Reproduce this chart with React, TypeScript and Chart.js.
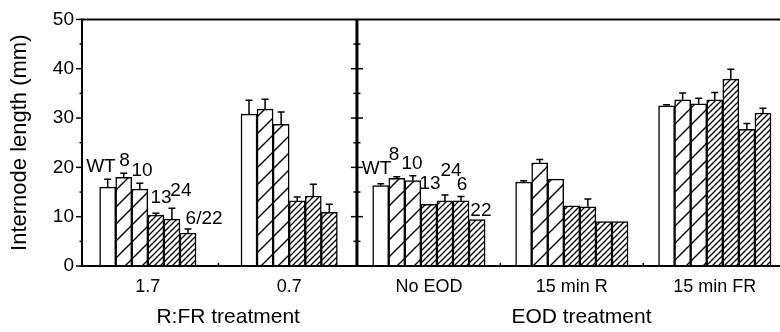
import React, { useEffect, useRef } from "react";
import { Chart, registerables } from "chart.js";

Chart.register(...registerables);

// ---------- data ----------
const GROUPS = ["1.7", "0.7", "No EOD", "15 min R", "15 min FR"];
const RFR_GENOTYPES = ["WT", "8", "10", "13", "24", "6/22"];
const EOD_GENOTYPES = ["WT", "8", "10", "13", "24", "6", "22"];

const RFR_17 = [16.0, 18.0, 15.6, 10.3, 9.5, 6.7];
const RFR_17_SE = [1.6, 0.8, 1.2, 0.4, 2.2, 0.8];
const RFR_07 = [30.8, 31.8, 28.7, 13.2, 14.2, 10.9];
const RFR_07_SE = [2.8, 2.0, 2.5, 0.8, 2.4, 1.6];
const EOD_NONE = [16.3, 17.8, 17.3, 12.5, 13.2, 13.2, 9.4];
const EOD_NONE_SE = [0.4, 0.3, 1.0, 0, 1.2, 0.9, 0];
const EOD_R = [17.0, 20.9, 17.6, 12.2, 12.0, 9.0, 9.0];
const EOD_R_SE = [0.3, 0.7, 0, 0, 1.6, 0, 0];
const EOD_FR = [32.5, 33.7, 32.9, 33.7, 37.9, 27.7, 31.0];
const EOD_FR_SE = [0.2, 1.4, 1.1, 1.5, 2.0, 1.2, 1.0];

const Y_TICKS = [0, 10, 20, 30, 40, 50];
const Y_TITLE = "Internode length (mm)";
const X_TITLES = ["R:FR treatment", "EOD treatment"];

// ---------- layout (x in bar-width units) ----------
const GROUP_START = [1.1, 9.9, 18.1, 27.0, 35.9];
const X_MAX = 43.4;
const DIVIDER_X = 17.12;
const GAP_TICKS = [8.5, 26.05, 34.95];
const X_TITLE_POS = [9.1, 31.1];
// label anchors: dx from bar centre (units), y in data units
const LABEL_DX_RFR = [-0.42, 0.05, 0.14, 0.32, 0.56, 1.0];
const LABEL_Y_RFR = [20.1, 21.4, 19.3, 13.9, 15.2, 9.6];
const LABEL_DX_EOD = [-0.26, -0.17, -0.05, 0.07, 0.38, 0.06, 0.24];
const LABEL_Y_EOD = [19.7, 22.6, 20.65, 16.7, 19.3, 16.4, 11.3];

const FONT = "'Liberation Sans', Arial, Helvetica, sans-serif";

export default function App() {
  const ref = useRef<HTMLCanvasElement | null>(null);

  useEffect(() => {
    document.body.style.margin = "0";
    document.body.style.overflow = "hidden";
    const canvas = ref.current!;
    const ctx0 = canvas.getContext("2d")!;

    const makeHatch = (s: number, lw: number) => {
      const c = document.createElement("canvas");
      c.width = s;
      c.height = s;
      const g = c.getContext("2d")!;
      g.fillStyle = "#fff";
      g.fillRect(0, 0, s, s);
      g.strokeStyle = "#000";
      g.lineWidth = lw;
      g.beginPath();
      g.moveTo(-1, s + 1);
      g.lineTo(s + 1, -1);
      g.moveTo(-s / 2 - 1, s / 2 + 1);
      g.lineTo(s / 2 + 1, -s / 2 - 1);
      g.moveTo(s / 2 - 1, s * 1.5 + 1);
      g.lineTo(s * 1.5 + 1, s / 2 - 1);
      g.stroke();
      return ctx0.createPattern(c, "repeat")!;
    };
    const sparse = makeHatch(17, 1.4);
    const dense = makeHatch(6, 1.3);

    const series = [RFR_17, RFR_07, EOD_NONE, EOD_R, EOD_FR];
    const ses = [RFR_17_SE, RFR_07_SE, EOD_NONE_SE, EOD_R_SE, EOD_FR_SE];

    const points: { x: number; y: number }[] = [];
    const fills: (string | CanvasPattern)[] = [];
    const errs: number[] = [];
    const centers: number[] = [];
    series.forEach((vals, g) => {
      vals.forEach((v, i) => {
        points.push({ x: GROUP_START[g] + 0.5 + i, y: v });
        fills.push(i === 0 ? "#ffffff" : i <= 2 ? sparse : dense);
        errs.push(ses[g][i]);
      });
      centers.push(GROUP_START[g] + vals.length / 2);
    });

    const overlay = {
      id: "overlay",
      afterDatasetsDraw(chart: any) {
        const ctx = chart.ctx as CanvasRenderingContext2D;
        const xs = chart.scales.x;
        const ys = chart.scales.y;
        const area = chart.chartArea;
        const meta = chart.getDatasetMeta(0);
        ctx.save();
        ctx.strokeStyle = "#000";
        ctx.fillStyle = "#000";
        // error bars
        ctx.lineWidth = 1.5;
        meta.data.forEach((bar: any, i: number) => {
          const se = errs[i];
          if (!se) return;
          const v = points[i].y;
          const x = bar.x;
          const y1 = ys.getPixelForValue(v);
          const y2 = ys.getPixelForValue(v + se);
          ctx.beginPath();
          ctx.moveTo(x, y1);
          ctx.lineTo(x, y2);
          ctx.moveTo(x - 3.5, y2);
          ctx.lineTo(x + 3.5, y2);
          ctx.stroke();
        });
        // frame lines
        ctx.lineWidth = 2;
        ctx.beginPath();
        ctx.moveTo(area.left, area.top);
        ctx.lineTo(area.right + 1, area.top);
        ctx.moveTo(area.left, area.bottom);
        ctx.lineTo(area.right + 1, area.bottom);
        ctx.moveTo(area.left, area.top - 1);
        ctx.lineTo(area.left, area.bottom + 1);
        ctx.stroke();
        // left axis ticks
        ctx.lineWidth = 1.5;
        for (let v = 0; v <= 50; v += 5) {
          const y = ys.getPixelForValue(v);
          const len = v % 10 === 0 ? 6 : 2.5;
          ctx.beginPath();
          ctx.moveTo(area.left - len, y);
          ctx.lineTo(area.left, y);
          ctx.stroke();
        }
        // divider axis
        const dx = xs.getPixelForValue(DIVIDER_X);
        ctx.lineWidth = 3;
        ctx.beginPath();
        ctx.moveTo(dx, area.top);
        ctx.lineTo(dx, area.bottom);
        ctx.stroke();
        ctx.lineWidth = 1.5;
        for (let v = 5; v < 50; v += 5) {
          const y = ys.getPixelForValue(v);
          const len = v % 10 === 0 ? 6 : 3.5;
          ctx.beginPath();
          ctx.moveTo(dx - len, y);
          ctx.lineTo(dx + len, y);
          ctx.stroke();
        }
        // small x ticks between groups
        GAP_TICKS.forEach((t) => {
          const x = xs.getPixelForValue(t);
          ctx.beginPath();
          ctx.moveTo(x, area.bottom);
          ctx.lineTo(x, area.bottom - 3);
          ctx.stroke();
        });
        // genotype labels
        ctx.font = `19px ${FONT}`;
        ctx.textAlign = "center";
        ctx.textBaseline = "middle";
        RFR_GENOTYPES.forEach((t, i) => {
          const x = xs.getPixelForValue(GROUP_START[0] + 0.5 + i + LABEL_DX_RFR[i]);
          const y = ys.getPixelForValue(LABEL_Y_RFR[i]);
          ctx.fillText(t, x, y);
        });
        EOD_GENOTYPES.forEach((t, i) => {
          const x = xs.getPixelForValue(GROUP_START[2] + 0.5 + i + LABEL_DX_EOD[i]);
          const y = ys.getPixelForValue(LABEL_Y_EOD[i]);
          ctx.fillText(t, x, y);
        });
        // x titles
        ctx.font = `21px ${FONT}`;
        X_TITLES.forEach((t, i) => {
          ctx.fillText(t, xs.getPixelForValue(X_TITLE_POS[i]), 317);
        });
        ctx.restore();
      },
    };

    const chart = new Chart(canvas, {
      type: "bar",
      data: {
        datasets: [
          {
            data: points as any,
            backgroundColor: fills as any,
            borderColor: "#000",
            borderWidth: 1.5,
            borderSkipped: "start",
            barPercentage: 1,
            categoryPercentage: 1,
          },
        ],
      },
      options: {
        animation: false,
        responsive: false,
        devicePixelRatio: 1,
        layout: { padding: { top: 13, right: 1, left: 0, bottom: 0 } },
        plugins: { legend: { display: false }, tooltip: { enabled: false } },
        scales: {
          x: {
            type: "linear",
            min: 0,
            max: X_MAX,
            offset: false,
            grid: { display: false, drawTicks: false },
            border: { display: false },
            afterBuildTicks: (s: any) => {
              s.ticks = centers.map((v) => ({ value: v }));
            },
            ticks: {
              autoSkip: false,
              maxRotation: 0,
              padding: 10,
              color: "#000",
              font: { family: FONT, size: 18 },
              callback: (_v: any, i: number) => GROUPS[i],
            },
            afterFit: (s: any) => {
              s.height = 66;
            },
          },
          y: {
            min: 0,
            max: 50,
            afterBuildTicks: (s: any) => {
              s.ticks = Y_TICKS.map((v) => ({ value: v }));
            },
            grid: { display: false, drawTicks: false },
            border: { display: false },
            ticks: {
              padding: 8,
              color: "#000",
              font: { family: FONT, size: 19 },
            },
            title: {
              display: true,
              text: Y_TITLE,
              color: "#000",
              font: { family: FONT, size: 22 },
              padding: { top: 7, bottom: 0 },
            },
            afterFit: (s: any) => {
              s.width = 82;
            },
          },
        },
      },
      plugins: [overlay],
    });
    return () => chart.destroy();
  }, []);

  return (
    <div style={{ width: 780, height: 332, background: "#fff" }}>
      <canvas ref={ref} width={780} height={332} style={{ display: "block" }} />
    </div>
  );
}
